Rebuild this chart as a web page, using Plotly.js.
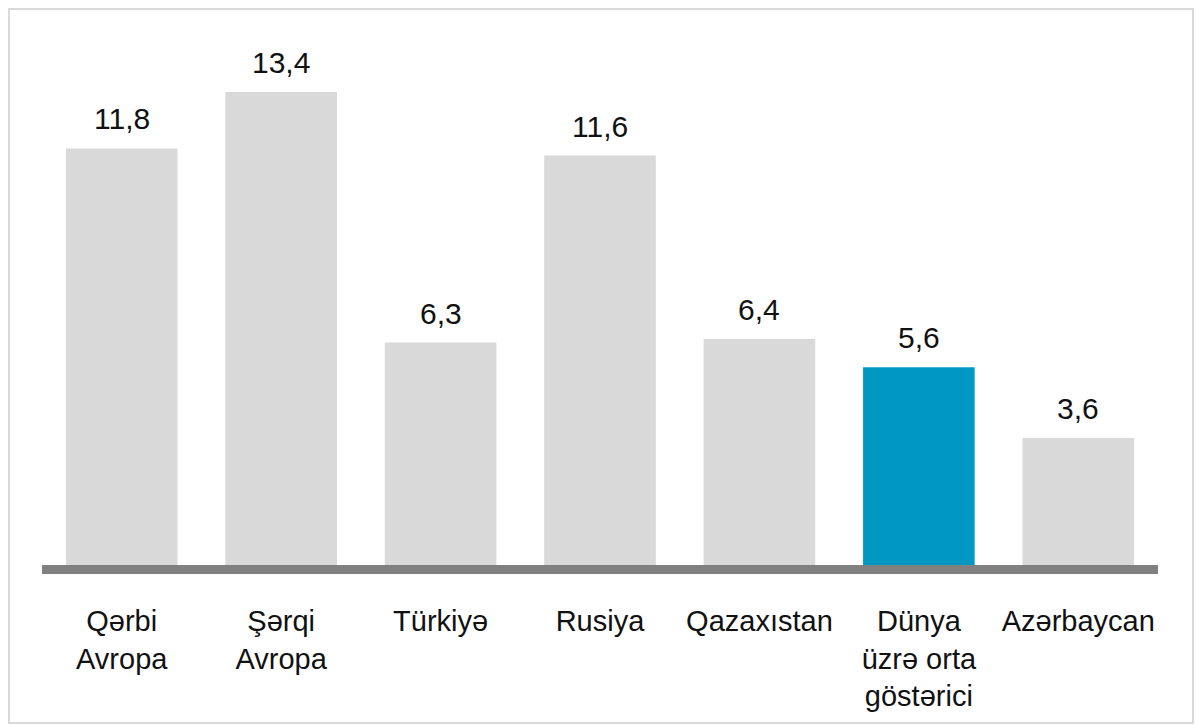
<!DOCTYPE html>
<html>
<head>
<meta charset="utf-8">
<script src="https://cdn.plot.ly/plotly-3.0.1.min.js"></script>
<style>
  html, body { margin: 0; padding: 0; background: #ffffff; }
  #chart { width: 1196px; height: 726px; position: absolute; left: 0; top: 0; }
  #frame { position: absolute; left: 8px; top: 8px; width: 1182px; height: 712px;
           border: 2px solid #d9d9d9; pointer-events: none; }
</style>
</head>
<body>
<div id="chart"></div>
<div id="frame"></div>
<script>
const categories = ["Qərbi<br>Avropa", "Şərqi<br>Avropa", "Türkiyə", "Rusiya", "Qazaxıstan", "Dünya<br>üzrə orta<br>göstərici", "Azərbaycan"];
const values = [11.8, 13.4, 6.3, 11.6, 6.4, 5.6, 3.6];
const highlight = [false, false, false, false, false, true, false];

const grey = "#d9d9d9";
const blue = "#0098c3";
const font = "Liberation Sans, Arial, sans-serif";

const trace = {
  type: "bar",
  x: categories,
  y: values,
  width: 0.7,
  marker: { color: highlight.map(h => h ? blue : grey), line: { width: 0 } },
  hoverinfo: "skip"
};

const annotations = categories.map((c, i) => ({
  x: c, y: values[i], xref: "x", yref: "y",
  text: values[i].toFixed(1).replace(".", ","),
  showarrow: false, yanchor: "bottom", yshift: 11,
  font: { family: font, size: 30, color: "#111111" }
}));

const layout = {
  width: 1196, height: 726,
  margin: { l: 42, r: 38, t: 20, b: 161 },
  paper_bgcolor: "#ffffff",
  plot_bgcolor: "#ffffff",
  separators: ", ",
  showlegend: false,
  bargap: 0.3,
  xaxis: {
    type: "category",
    range: [-0.5, 6.5],
    showline: true, linewidth: 9, linecolor: "#808080",
    ticks: "", showgrid: false, zeroline: false,
    tickfont: { family: font, size: 29, color: "#111111" },
    ticklabelstandoff: 22,
    fixedrange: true
  },
  yaxis: {
    range: [0, 15.44],
    visible: false, showgrid: false, zeroline: false,
    fixedrange: true
  },
  annotations: annotations
};

Plotly.newPlot("chart", [trace], layout, { displayModeBar: false, staticPlot: true });
</script>
</body>
</html>
